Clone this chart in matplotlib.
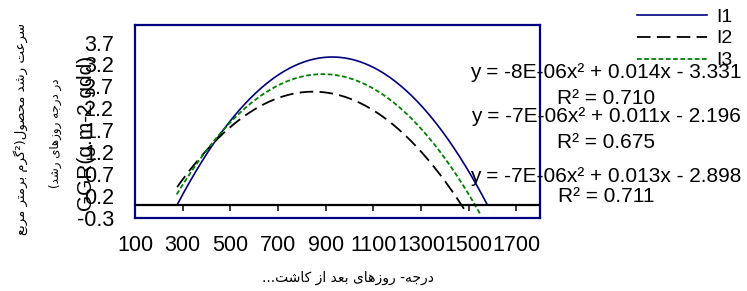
import numpy as np
import matplotlib
matplotlib.use("Agg")
import matplotlib.pyplot as plt

plt.rcParams['font.family'] = ['Liberation Sans', 'DejaVu Sans']

# ---- data ----
series_names = ["I1", "I2", "I3"]
# vertex-form trendlines: y = a*(x-h)^2 + k, drawn over [x_start, x_end]
curv_a = [-7.95e-6, -6.67e-6, -7.30e-6]
peak_x = [928, 848, 888]
peak_y = [3.37, 2.58, 2.98]
x_start = [277, 277, 275]
x_end = [1579, 1484, 1551]
equations = ["y = -8E-06x² + 0.014x - 3.331",
             "y = -7E-06x² + 0.011x - 2.196",
             "y = -7E-06x² + 0.013x - 2.898"]
r2_labels = ["R² = 0.710", "R² = 0.675", "R² = 0.711"]
xticks = [100, 300, 500, 700, 900, 1100, 1300, 1500, 1700]
yticks = [-0.3, 0.2, 0.7, 1.2, 1.7, 2.2, 2.7, 3.2, 3.7]
ylabel_fa_1 = "سرعت رشد محصول(²گرم برمتر مربع"
ylabel_fa_2 = "در درجه روزهای رشد)"
xlabel_fa = "درجه- روزهای بعد از کاشت..."
ylabel_en = "GGR(g.m-2.gdd)"

# ---- minimal Persian shaping (presentation forms) ----
FORMS = {
    'ا': (0xFE8D, 0xFE8E, None, None), 'ب': (0xFE8F, 0xFE90, 0xFE91, 0xFE92),
    'ت': (0xFE95, 0xFE96, 0xFE97, 0xFE98), 'ج': (0xFE9D, 0xFE9E, 0xFE9F, 0xFEA0),
    'ح': (0xFEA1, 0xFEA2, 0xFEA3, 0xFEA4), 'د': (0xFEA9, 0xFEAA, None, None),
    'ر': (0xFEAD, 0xFEAE, None, None), 'ز': (0xFEAF, 0xFEB0, None, None),
    'س': (0xFEB1, 0xFEB2, 0xFEB3, 0xFEB4), 'ش': (0xFEB5, 0xFEB6, 0xFEB7, 0xFEB8),
    'ص': (0xFEB9, 0xFEBA, 0xFEBB, 0xFEBC), 'ع': (0xFEC9, 0xFECA, 0xFECB, 0xFECC),
    'ف': (0xFED1, 0xFED2, 0xFED3, 0xFED4), 'ل': (0xFEDD, 0xFEDE, 0xFEDF, 0xFEE0),
    'م': (0xFEE1, 0xFEE2, 0xFEE3, 0xFEE4), 'ن': (0xFEE5, 0xFEE6, 0xFEE7, 0xFEE8),
    'ه': (0xFEE9, 0xFEEA, 0xFEEB, 0xFEEC), 'و': (0xFEED, 0xFEEE, None, None),
    'ی': (0xFBFC, 0xFBFD, 0xFBFE, 0xFBFF), 'ک': (0xFB8E, 0xFB8F, 0xFB90, 0xFB91),
    'گ': (0xFB92, 0xFB93, 0xFB94, 0xFB95),
}
MIRROR = {'(': ')', ')': '('}


def dual(c):
    return c in FORMS and FORMS[c][2] is not None


def shape(s):
    out = []
    for i, c in enumerate(s):
        if c not in FORMS:
            out.append(MIRROR.get(c, c))
            continue
        prev = s[i - 1] if i > 0 else ''
        nxt = s[i + 1] if i + 1 < len(s) else ''
        jp = dual(prev)
        jn = dual(c) and nxt in FORMS
        iso, fin, ini, med = FORMS[c]
        if jp and jn:
            g = med
        elif jp:
            g = fin
        elif jn:
            g = ini
        else:
            g = iso
        out.append(chr(g))
    return ''.join(out[::-1])


W, H = 747, 291
fig = plt.figure(figsize=(W / 100, H / 100), dpi=100)
ax = fig.add_axes([135 / W, 1 - 218 / H, 405 / W, 193 / H])

colors = ["#000080", "#000000", "#008000"]
styles = [dict(linestyle='-', linewidth=1.2),
          dict(linestyle=(0, (7.5, 3.5)), linewidth=1.3),
          dict(linestyle=(0, (2.6, 1.4)), linewidth=1.3)]

handles = []
for i, name in enumerate(series_names):
    xs = np.linspace(x_start[i], x_end[i], 300)
    ys = curv_a[i] * (xs - peak_x[i]) ** 2 + peak_y[i]
    ln, = ax.plot(xs, ys, color=colors[i], label=name, **styles[i])
    handles.append(ln)

ax.set_xlim(100, 1800)
ax.set_ylim(-0.3, 4.1)
ax.axhline(0, color='black', linewidth=1.6, zorder=3)
ax.vlines(xticks[1:], -0.14, 0, color='black', linewidth=1.1, zorder=3)

ax.set_xticks(xticks)
ax.set_xticklabels([str(t) for t in xticks])
ax.set_yticks(yticks)
ax.set_yticklabels([f"{t:.1f}" for t in yticks])
ax.tick_params(axis='both', length=0, labelsize=15.5)
ax.tick_params(axis='x', pad=12)
ax.tick_params(axis='y', pad=15)
for sp in ax.spines.values():
    sp.set_color('#000080')
    sp.set_linewidth(1.6)

# overlapping english y label
fig.text(86 / W, 1 - 132 / H, ylabel_en, rotation=90, fontsize=15,
         ha='center', va='center')
# persian labels
fig.text(21 / W, 1 - 129 / H, shape(ylabel_fa_1), rotation=90, fontsize=9.5,
         ha='center', va='center', family=['DejaVu Sans'])
fig.text(55 / W, 1 - 133 / H, shape(ylabel_fa_2), rotation=90, fontsize=8.5,
         ha='center', va='center', family=['DejaVu Sans'])
fig.text(348 / W, 1 - 278 / H, shape(xlabel_fa), fontsize=10,
         ha='center', va='center', family=['DejaVu Sans'])

# equations
eq_y = [73, 117, 176]
r2_y = [98, 142, 196]
for i in range(3):
    fig.text(606 / W, 1 - eq_y[i] / H, equations[i], fontsize=15,
             ha='center', va='center')
    fig.text(606 / W, 1 - r2_y[i] / H, r2_labels[i], fontsize=15,
             ha='center', va='center')

fig.legend(handles, series_names, loc='upper left',
           bbox_to_anchor=(637 / W, 1 - 8 / H), frameon=False,
           fontsize=14, handlelength=3.6, handletextpad=0.5,
           labelspacing=0.22, borderpad=0, borderaxespad=0)

fig.savefig("out.png", dpi=100)
